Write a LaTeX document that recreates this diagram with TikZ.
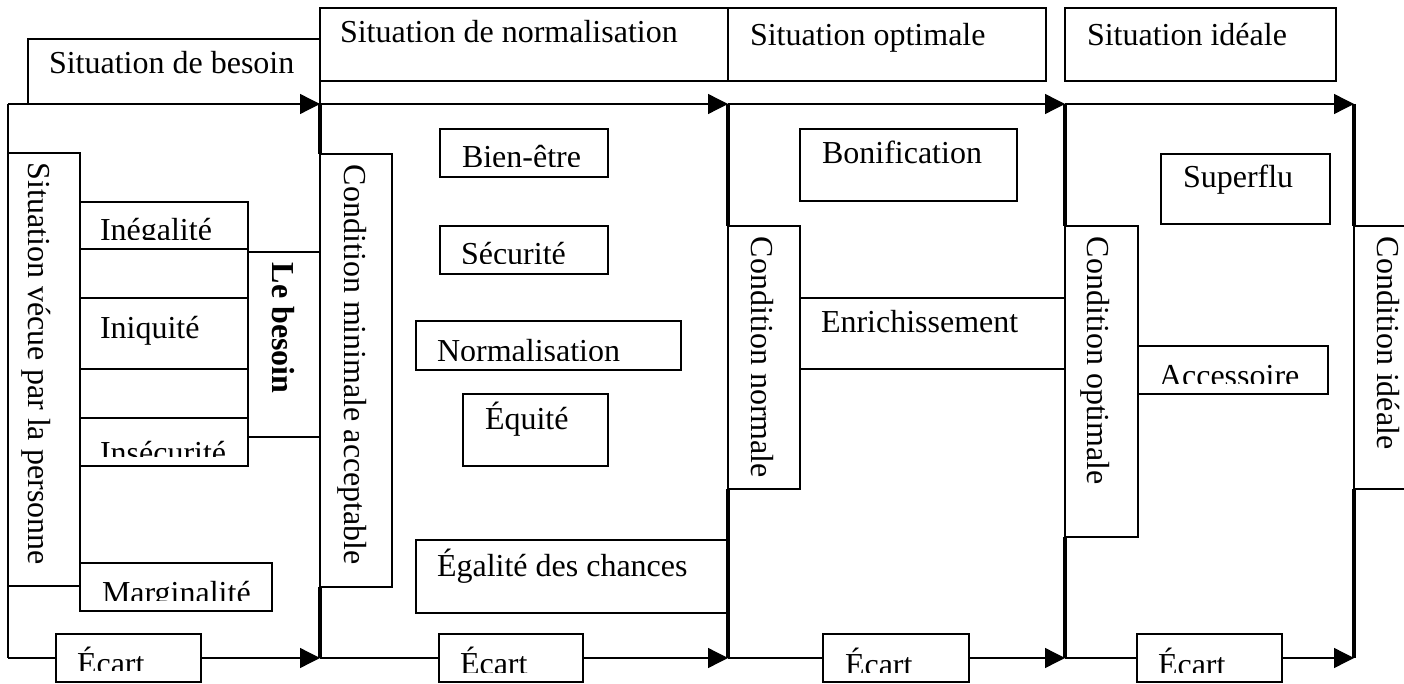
\documentclass[tikz,border=0pt]{standalone}
\usepackage{fontspec}
\setmainfont{Liberation Serif}
\usetikzlibrary{arrows.meta}
\tikzset{
 ln/.style={line width=1.3pt},
 heavy/.style={line width=4.3pt},
 box/.style={draw, line width=1.3pt, inner sep=0pt, outer sep=0pt},
 txt/.style={inner sep=0pt, outer sep=0pt, anchor=base west, font=\fontsize{32}{38}\selectfont},
 vtxt/.style={txt, rotate=-90},
 arr/.style={line width=1.3pt, -{Triangle[length=20pt,width=20pt]}},
}
\newcommand{\bx}[5]{\node[box, anchor=north west, minimum width={#4-#2}, minimum height={#5-#3}] (#1) at (#2,#3) {};}
% name, x, baseline, text, clip x1, clip y1, clip x2, clip y2
\newcommand{\ctxt}[8]{\begin{scope}\clip (#5,#6) rectangle (#7,#8);\node[txt] (#1) at (#2,#3) {#4};\end{scope}}
\begin{document}
\begin{tikzpicture}[x=1pt,y=-1pt]
\useasboundingbox (0,0) rectangle (1404,684);
% frame coordinates
\coordinate (t0) at (8,104);
\coordinate (t1) at (320,104);
\coordinate (t2) at (728,104);
\coordinate (t3) at (1065,104);
\coordinate (t4) at (1354,104);
\coordinate (b0) at (8,658);
\coordinate (b1) at (320,658);
\coordinate (b2) at (728,658);
\coordinate (b3) at (1065,658);
\coordinate (b4) at (1354,658);
% top boxes
\bx{hb}{28}{39}{320}{104}
\bx{hn}{320}{8}{728}{81}
\bx{ho}{728}{8}{1046}{81}
\bx{hi}{1065}{8}{1336}{81}
\node[txt] (hbT) at (49,74) {Situation de besoin};
\node[txt] (hnT) at (340,43) {Situation de normalisation};
\node[txt] (hoT) at (750,46) {Situation optimale};
\node[txt] (hiT) at (1087,46) {Situation idéale};
% top arrows
\draw[arr] (t0) -- (t1);
\draw[arr] (t1) -- (t2);
\draw[arr] (t2) -- (t3);
\draw[arr] (t3) -- (t4);
\draw[ln] (t0) -- (b0);
% column 1
\bx{sv}{8}{153}{80}{586}
\node[vtxt] (svT) at (28,163) {Situation vécue par la personne};
\bx{ineg}{80}{202}{248}{249}
\ctxt{inegT}{100}{241}{Inégalité}{80}{202}{248}{239.5}
\bx{iniqo}{80}{249}{248}{418}
\bx{iniq}{80}{298}{248}{369}
\node[txt] (iniqT) at (100,338) {Iniquité};
\bx{insec}{80}{418}{248}{466}
\ctxt{insecT}{100}{463}{Insécurité}{80}{418}{248}{456}
\bx{marg}{80}{563}{272}{611}
\ctxt{margT}{102}{603}{Marginalité}{80}{563}{272}{600}
\bx{lb}{248}{252}{320}{437}
\node[vtxt, font=\fontsize{32}{38}\selectfont\bfseries] (lbT) at (272,263) {Le besoin};
% column 2
\bx{cmin}{320}{154}{392}{587}
\node[vtxt] (cminT) at (344,165) {Condition minimale acceptable};
\bx{bien}{440}{129}{608}{177}
\ctxt{bienT}{462}{168}{Bien-être}{440}{129}{608}{166.7}
\bx{secu}{440}{226}{608}{274}
\ctxt{secuT}{461}{264.5}{Sécurité}{440}{226}{608}{263.3}
\bx{norm}{416}{321}{681}{370}
\ctxt{normT}{437}{361}{Normalisation}{416}{321}{681}{360}
\bx{equi}{463}{394}{608}{466}
\node[txt] (equiT) at (485,429) {Équité};
\bx{egal}{416}{540}{728}{613}
\node[txt] (egalT) at (437,576) {Égalité des chances};
% column 3
\bx{cnorm}{728}{226}{800}{489}
\node[vtxt] (cnormT) at (751,237) {Condition normale};
\bx{boni}{800}{129}{1017}{201}
\node[txt] (boniT) at (822,164) {Bonification};
\bx{enri}{800}{298}{1065}{369}
\node[txt] (enriT) at (821,332) {Enrichissement};
% column 4
\bx{copt}{1065}{226}{1138}{537}
\node[vtxt] (coptT) at (1087,237) {Condition optimale};
\bx{supe}{1161}{154}{1330}{224}
\node[txt] (supeT) at (1183,188) {Superflu};
\bx{acce}{1138}{346}{1328}{394}
\ctxt{acceT}{1159}{386}{Accessoire}{1138}{346}{1328}{383.3}
% column 5
\coordinate (ci1) at (1354,226);
\coordinate (ci2) at (1354,489);
\draw[ln] (1404,226) -- (ci1) -- (ci2) -- (1404,489);
\node[vtxt] (cideT) at (1377,237) {Condition idéale};
% bottom Écart boxes and arrows
\bx{e1}{56}{634}{201}{682}
\ctxt{e1T}{77}{674}{Écart}{56}{634}{201}{670}
\bx{e2}{439}{634}{583}{682}
\ctxt{e2T}{460}{674}{Écart}{439}{634}{583}{672.5}
\bx{e3}{823}{634}{969}{682}
\ctxt{e3T}{845}{675}{Écart}{823}{634}{969}{672}
\bx{e4}{1137}{634}{1282}{682}
\ctxt{e4T}{1158}{675}{Écart}{1137}{634}{1282}{672}
\draw[ln] (b0) -- (e1.west);
\draw[arr] (e1.east) -- (b1);
\draw[ln] (b1) -- (e2.west);
\draw[arr] (e2.east) -- (b2);
\draw[ln] (b2) -- (e3.west);
\draw[arr] (e3.east) -- (b3);
\draw[ln] (b3) -- (e4.west);
\draw[arr] (e4.east) -- (b4);
% heavy verticals
\draw[heavy] (t1) -- (cmin.north west);
\draw[heavy] (cmin.south west) -- (b1);
\draw[heavy] (t2) -- (cnorm.north west);
\draw[heavy] (cnorm.south west) -- (b2);
\draw[heavy] (t3) -- (copt.north west);
\draw[heavy] (copt.south west) -- (b3);
\draw[heavy] (t4) -- (ci1);
\draw[heavy] (ci2) -- (b4);
\end{tikzpicture}
\end{document}
